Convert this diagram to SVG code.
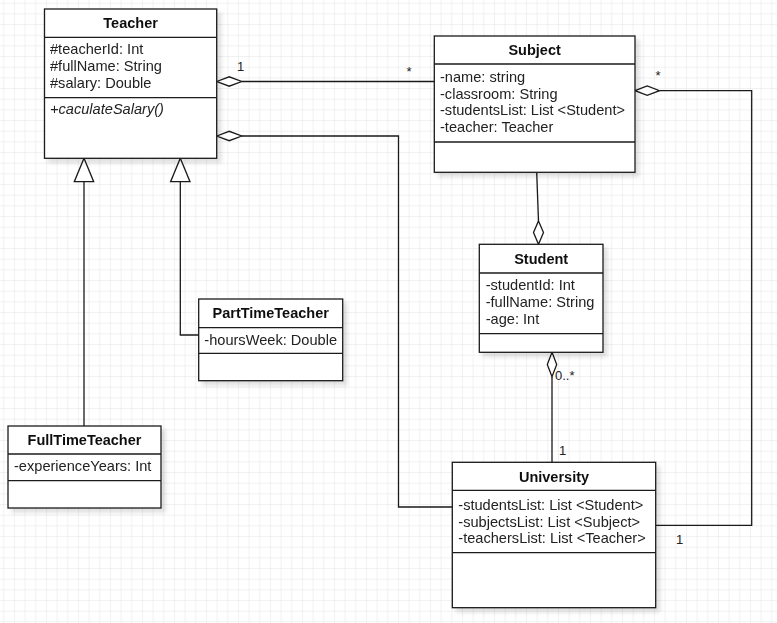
<svg xmlns="http://www.w3.org/2000/svg" width="777" height="623" viewBox="0 0 777 623">
<defs>
<pattern id="grid" patternUnits="userSpaceOnUse" x="3.3" y="2.7" width="10.667" height="10.667">
<path d="M0 0H10.667M0 0V10.667" fill="none" stroke="#e3e3e3" stroke-width="1"/>
</pattern>
<filter id="sh" x="-10%" y="-10%" width="130%" height="130%">
<feDropShadow dx="4" dy="4" stdDeviation="2" flood-color="#000" flood-opacity="0.12"/>
</filter>
<style>
.box{fill:#fff;stroke:#1a1a1a;stroke-width:1.3}
.div{stroke:#1a1a1a;stroke-width:1.3;fill:none}
.t{font-family:"Liberation Sans",Arial,sans-serif;font-size:14.5px;font-weight:bold;fill:#111;text-anchor:middle}
.a{font-family:"Liberation Sans",Arial,sans-serif;font-size:14.6px;fill:#222}
.m{font-style:italic}
.c{fill:none;stroke:#1a1a1a;stroke-width:1.3}
.dia{fill:#fff;stroke:#1a1a1a;stroke-width:1.3}
.lbl{font-family:"Liberation Sans",Arial,sans-serif;font-size:13px;fill:#222}
</style>
</defs>
<rect width="777" height="623" fill="#fff"/>
<rect width="777" height="623" fill="url(#grid)"/>

<g id="connectors">
<path class="c" d="M241.7 81.5H434.3"/>
<path class="dia" d="M216.7 81.5L229.2 76.8L241.7 81.5L229.2 86.2Z"/>
<path class="c" d="M241.7 136H398.5V507H452.3"/>
<path class="dia" d="M216.7 136L229.2 131.3L241.7 136L229.2 140.7Z"/>
<path class="c" d="M536.7 172.3L538.5 221"/>
<path class="dia" d="M538.5 221L543.5 232.6L538.5 244.3L533.5 232.6Z"/>
<path class="c" d="M659.5 90.7H751.7V525.3H655.7"/>
<path class="dia" d="M635 90.7L647.2 86L659.5 90.7L647.2 95.4Z"/>
<path class="c" d="M552 376.7V462.3"/>
<path class="dia" d="M552 352.3L556.7 364.5L552 376.7L547.3 364.5Z"/>
<path class="c" d="M180.3 181.7V335H198.7"/>
<path class="dia" d="M180.3 158.3L190 181.7H170.6Z"/>
<path class="c" d="M84 181.7V426"/>
<path class="dia" d="M84 158.3L93.7 181.7H74.3Z"/>
<text class="lbl" x="237" y="71">1</text>
<text class="lbl" x="406.5" y="75.5">*</text>
<text class="lbl" x="655.5" y="80">*</text>
<text class="lbl" x="676" y="544">1</text>
<text class="lbl" x="555" y="380">0..*</text>
<text class="lbl" x="559" y="455">1</text>
</g>

<g id="Teacher" filter="url(#sh)">
<rect class="box" x="44.5" y="9" width="172.2" height="149.3"/>
<path class="div" d="M44.5 37.3H216.7M44.5 97.7H216.7"/>
<text class="t" x="130.6" y="28">Teacher</text>
<text class="a" x="50" y="54.3">#teacherId: Int</text>
<text class="a" x="50" y="71">#fullName: String</text>
<text class="a" x="50" y="87.5">#salary: Double</text>
<text class="a m" x="50" y="113.8">+caculateSalary()</text>
</g>

<g id="Subject" filter="url(#sh)">
<rect class="box" x="434.3" y="36" width="200.7" height="136.3"/>
<path class="div" d="M434.3 64H635M434.3 142H635"/>
<text class="t" x="534.6" y="55">Subject</text>
<text class="a" x="440" y="81.5">-name: string</text>
<text class="a" x="440" y="98.5">-classroom: String</text>
<text class="a" x="440" y="115.3">-studentsList: List &lt;Student&gt;</text>
<text class="a" x="440" y="132.3">-teacher: Teacher</text>
</g>

<g id="Student" filter="url(#sh)">
<rect class="box" x="479.3" y="244.3" width="123.7" height="108"/>
<path class="div" d="M479.3 273H603M479.3 333.7H603"/>
<text class="t" x="541.2" y="264">Student</text>
<text class="a" x="485.7" y="290">-studentId: Int</text>
<text class="a" x="485.7" y="307">-fullName: String</text>
<text class="a" x="485.7" y="324">-age: Int</text>
</g>

<g id="University" filter="url(#sh)">
<rect class="box" x="452.3" y="462.3" width="203.4" height="145.4"/>
<path class="div" d="M452.3 490.3H655.7M452.3 552.7H655.7"/>
<text class="t" x="554" y="481.7">University</text>
<text class="a" x="458.3" y="510">-studentsList: List &lt;Student&gt;</text>
<text class="a" x="458.3" y="526.5">-subjectsList: List &lt;Subject&gt;</text>
<text class="a" x="458.3" y="543.3">-teachersList: List &lt;Teacher&gt;</text>
</g>

<g id="PartTimeTeacher" filter="url(#sh)">
<rect class="box" x="198.7" y="299" width="144" height="81.7"/>
<path class="div" d="M198.7 327.7H342.7M198.7 353.3H342.7"/>
<text class="t" x="270.7" y="318.3">PartTimeTeacher</text>
<text class="a" x="204.3" y="344.5">-hoursWeek: Double</text>
</g>

<g id="FullTimeTeacher" filter="url(#sh)">
<rect class="box" x="8" y="426" width="153" height="82"/>
<path class="div" d="M8 454H161M8 480.7H161"/>
<text class="t" x="84.5" y="445.3">FullTimeTeacher</text>
<text class="a" x="14" y="471.3">-experienceYears: Int</text>
</g>
</svg>
